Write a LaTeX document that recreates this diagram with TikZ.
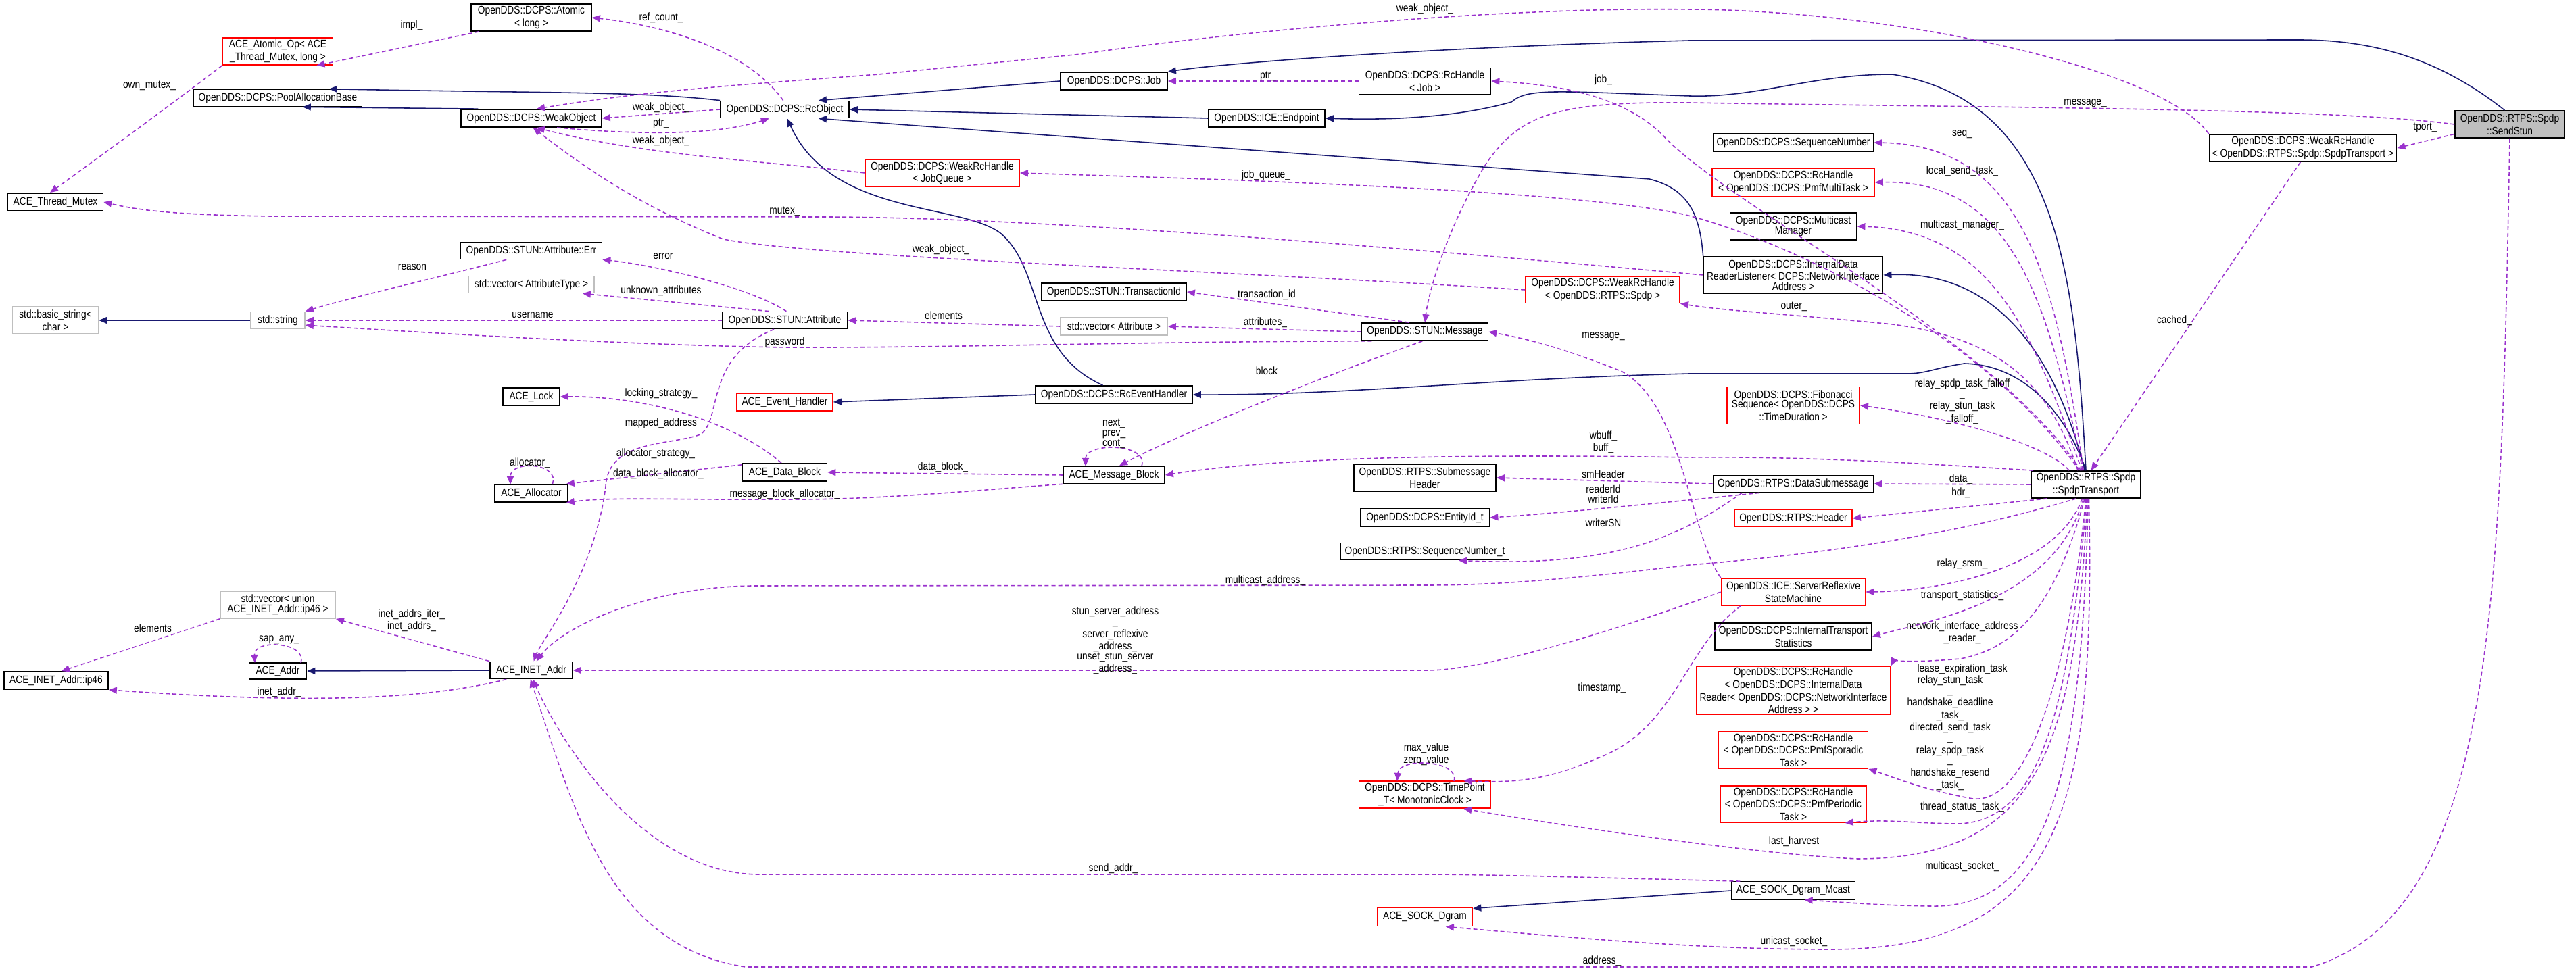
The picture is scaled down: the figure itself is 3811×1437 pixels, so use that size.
\documentclass[tikz,border=0pt]{standalone}
\usepackage{fontspec}
\setmainfont{Liberation Sans}[FakeStretch=0.85]
\usetikzlibrary{arrows.meta}
\definecolor{navy}{RGB}{25,25,112}
\definecolor{purp}{RGB}{154,50,205}
\definecolor{gbox}{RGB}{191,191,191}
\begin{document}
\begin{tikzpicture}[x=0.01cm,y=-0.01cm,
  every node/.style={font=\fontsize{4.6pt}{4.2pt}\selectfont, align=center, inner sep=0.5pt},
  sz/.style 2 args={minimum width=#1*0.01cm, minimum height=#2*0.01cm},
  cls/.style={draw=black, line width=0.5pt, fill=white},
  rcls/.style={draw=red, line width=0.5pt, fill=white},
  gcls/.style={draw=gbox, line width=0.5pt, fill=white},
  cur/.style={draw=black, line width=0.5pt, fill=gbox},
  inh/.style={draw=navy, line width=0.45pt, -{Triangle[length=0.12cm,width=0.1cm]}},
  use/.style={draw=purp, line width=0.45pt, dash pattern=on 0.06cm off 0.04cm, -{Triangle[length=0.12cm,width=0.1cm]}},
  lbl/.style={fill=none}]
\useasboundingbox (0,0) rectangle (3811,1437);
% nodes
\node[cls,sz={178}{40}] (atomic) at (786,26) {OpenDDS::DCPS::Atomic\\< long >};
\node[rcls,sz={163}{40}] (atomicop) at (411,76) {ACE\_Atomic\_Op< ACE\\\_Thread\_Mutex, long >};
\node[cls,sz={249}{25}] (pool) at (411,145) {OpenDDS::DCPS::PoolAllocationBase};
\node[cls,sz={208}{26}] (weakobj) at (786,175) {OpenDDS::DCPS::WeakObject};
\node[cls,sz={190}{25}] (rcobj) at (1161,162) {OpenDDS::DCPS::RcObject};
\node[cls,sz={141}{26}] (mutex) at (82,299) {ACE\_Thread\_Mutex};
\node[cls,sz={209}{25}] (err) at (786,371) {OpenDDS::STUN::Attribute::Err};
\node[gcls,sz={186}{25}] (vecat) at (786,421) {std::vector< AttributeType >};
\node[gcls,sz={127}{40}] (bstr) at (82,474) {std::basic\_string<\\char >};
\node[gcls,sz={80}{25}] (str) at (411,474) {std::string};
\node[cls,sz={185}{25}] (attr) at (1161,474) {OpenDDS::STUN::Attribute};
\node[cls,sz={84}{26}] (lock) at (786,587) {ACE\_Lock};
\node[rcls,sz={142}{26}] (evh) at (1161,595) {ACE\_Event\_Handler};
\node[cls,sz={125}{26}] (dblock) at (1161,699) {ACE\_Data\_Block};
\node[cls,sz={108}{26}] (alloc) at (786,730) {ACE\_Allocator};
\node[cls,sz={158}{26}] (job) at (1648,120) {OpenDDS::DCPS::Job};
\node[cls,sz={195}{39}] (rchjob) at (2108,120) {OpenDDS::DCPS::RcHandle\\< Job >};
\node[cls,sz={172}{26}] (endpoint) at (1874,175) {OpenDDS::ICE::Endpoint};
\node[rcls,sz={228}{40}] (wrhjq) at (1394,256) {OpenDDS::DCPS::WeakRcHandle\\< JobQueue >};
\node[rcls,sz={228}{39}] (wrhspdp) at (2371,429) {OpenDDS::DCPS::WeakRcHandle\\< OpenDDS::RTPS::Spdp >};
\node[cls,sz={214}{26}] (tid) at (1648,432) {OpenDDS::STUN::TransactionId};
\node[gcls,sz={158}{26}] (vecattr) at (1648,483) {std::vector< Attribute >};
\node[cls,sz={187}{26}] (msg) at (2108,491) {OpenDDS::STUN::Message};
\node[cls,sz={232}{26}] (reh) at (1648,584) {OpenDDS::DCPS::RcEventHandler};
\node[cls,sz={150}{26}] (mblock) at (1648,703) {ACE\_Message\_Block};
\node[cls,sz={210}{40}] (smh) at (2108,707) {OpenDDS::RTPS::Submessage\\Header};
\node[cur,sz={162}{40}] (sendstun) at (3713,184) {OpenDDS::RTPS::Spdp\\::SendStun};
\node[cls,sz={277}{40}] (wrhst) at (3407,219) {OpenDDS::DCPS::WeakRcHandle\\< OpenDDS::RTPS::Spdp::SpdpTransport >};
\node[cls,sz={237}{26}] (seqn) at (2653,211) {OpenDDS::DCPS::SequenceNumber};
\node[rcls,sz={240}{41}] (pmfmulti) at (2653,270) {OpenDDS::DCPS::RcHandle\\< OpenDDS::DCPS::PmfMultiTask >};
\node[cls,sz={187}{40}] (mcm) at (2653,335) {OpenDDS::DCPS::Multicast\\Manager};
\node[cls,sz={265}{54}] (idrl) at (2653,407) {OpenDDS::DCPS::InternalData\\ReaderListener< DCPS::NetworkInterface\\Address >};
\node[rcls,sz={196}{55}] (fib) at (2653,600) {OpenDDS::DCPS::Fibonacci\\Sequence< OpenDDS::DCPS\\::TimeDuration >};
\node[cls,sz={162}{40}] (spdpt) at (3086,717) {OpenDDS::RTPS::Spdp\\::SpdpTransport};
\node[cls,sz={237}{25}] (dsub) at (2653,716) {OpenDDS::RTPS::DataSubmessage};
\node[cls,sz={191}{26}] (entity) at (2108,766) {OpenDDS::DCPS::EntityId\_t};
\node[cls,sz={249}{25}] (seqnt) at (2108,816) {OpenDDS::RTPS::SequenceNumber\_t};
\node[rcls,sz={174}{25}] (hdr) at (2653,767) {OpenDDS::RTPS::Header};
\node[rcls,sz={213}{40}] (srsm) at (2653,876) {OpenDDS::ICE::ServerReflexive\\StateMachine};
\node[cls,sz={232}{40}] (its) at (2653,942) {OpenDDS::DCPS::InternalTransport\\Statistics};
\node[rcls,sz={287}{69}] (rchidr) at (2653,1022) {OpenDDS::DCPS::RcHandle\\< OpenDDS::DCPS::InternalData\\Reader< OpenDDS::DCPS::NetworkInterface\\Address > >};
\node[rcls,sz={221}{54}] (spor) at (2653,1110) {OpenDDS::DCPS::RcHandle\\< OpenDDS::DCPS::PmfSporadic\\Task >};
\node[rcls,sz={216}{54}] (peri) at (2653,1190) {OpenDDS::DCPS::RcHandle\\< OpenDDS::DCPS::PmfPeriodic\\Task >};
\node[rcls,sz={195}{40}] (timep) at (2108,1176) {OpenDDS::DCPS::TimePoint\\\_T< MonotonicClock >};
\node[cls,sz={183}{26}] (mcast) at (2653,1318) {ACE\_SOCK\_Dgram\_Mcast};
\node[rcls,sz={141}{27}] (sockd) at (2108,1357) {ACE\_SOCK\_Dgram};
\node[gcls,sz={170}{40}] (vip46) at (411,895) {std::vector< union\\ACE\_INET\_Addr::ip46 >};
\node[cls,sz={85}{24}] (addr) at (411,993) {ACE\_Addr};
\node[cls,sz={154}{26}] (ip46) at (83,1007) {ACE\_INET\_Addr::ip46};
\node[cls,sz={122}{25}] (inet) at (786,992) {ACE\_INET\_Addr};
% inheritance
\draw[inh] (weakobj.170) -- (pool.-20);
\draw[inh] (rcobj.north west) .. controls (950,135) and (800,138) .. (pool.10);
\draw[inh] (job.west) -- (rcobj.15);
\draw[inh] (endpoint.west) -- (rcobj.east);
\draw[inh] (idrl.north west) .. controls (2515,320) and (2500,280) .. (2440,265) -- (rcobj.-15);
\draw[inh] (reh.140) .. controls (1520,520) and (1545,400) .. (1480,345) .. controls (1420,300) and (1230,320) .. (rcobj.-75);
\draw[inh] (reh.west) -- (evh.east);
\draw[inh] (sendstun.110) .. controls (3600,80) and (3500,59) .. (3400,59) -- (2500,60) .. controls (2100,70) and (1800,95) .. (job.north east);
\draw[inh] (spdpt.north) .. controls (3070,420) and (3050,150) .. (2799,110) .. controls (2680,110) and (2600,145) .. (2500,142) .. controls (2300,135) and (2260,130) .. (2236,151) .. controls (2150,175) and (2050,178) .. (endpoint.east);
\draw[inh] (spdpt.95) .. controls (3040,520) and (2950,400) .. (idrl.east);
\draw[inh] (spdpt.north) .. controls (3060,620) and (3000,540) .. (2906,538) .. controls (2860,545) and (2850,553) .. (2820,553) -- (2500,553) .. controls (2200,560) and (2000,585) .. (reh.east);
\draw[inh] (inet.west) -- (addr.east);
\draw[inh] (mcast.west) -- (sockd.10);
\draw[inh] (str.west) -- (bstr.east);
% usage
\draw[use] (atomic.-165) -- (atomicop.-20);
\draw[use] (atomicop.south west) .. controls (260,150) and (150,230) .. (mutex.120);
\draw[use] (rcobj.100) .. controls (1110,80) and (1000,40) .. (atomic.east);
\draw[use] (rcobj.west) -- (weakobj.east);
\draw[use] (weakobj.-20) .. controls (950,200) and (1060,200) .. (rcobj.-150);
\draw[use] (wrhjq.west) .. controls (1150,240) and (950,230) .. (weakobj.-60);
\draw[use] (wrhspdp.west) .. controls (1800,400) and (1200,380) .. (1070,354) .. controls (960,310) and (880,260) .. (weakobj.-80);
\draw[use] (wrhst.north west) .. controls (3200,100) and (2800,15) .. (2500,14) .. controls (2200,10) and (1800,50) .. (1600,80) -- (1300,110) .. controls (1100,125) and (950,135) .. (weakobj.60);
\draw[use] (rchjob.west) -- (job.east);
\draw[use] (sendstun.west) .. controls (3450,160) and (3000,160) .. (2500,152) .. controls (2300,150) and (2250,170) .. (2200,240) .. controls (2150,320) and (2115,420) .. (msg.north);
\draw[use] (sendstun.-170) -- (wrhst.east);
\draw[use] (sendstun.south) .. controls (3700,900) and (3690,1350) .. (3420,1431) -- (1103,1431) .. controls (900,1400) and (850,1200) .. (inet.-95);
\draw[use] (wrhst.-100) -- (spdpt.70);
\draw[use] (spdpt.110) .. controls (2950,500) and (2550,300) .. (2460,200) .. controls (2400,140) and (2300,125) .. (rchjob.east);
\draw[use] (spdpt.115) .. controls (2900,450) and (2560,330) .. (2480,315) .. controls (2300,280) and (1800,265) .. (wrhjq.east);
\draw[use] (idrl.west) .. controls (2000,360) and (1500,320) .. (1200,321) -- (400,320) .. controls (250,318) and (200,310) .. (mutex.east);
\draw[use] (spdpt.120) .. controls (3030,560) and (2950,500) .. (2800,480) .. controls (2650,465) and (2550,460) .. (wrhspdp.-10);
\draw[use] (spdpt.100) .. controls (3040,400) and (2990,215) .. (seqn.east);
\draw[use] (spdpt.103) .. controls (3030,450) and (2980,265) .. (pmfmulti.east);
\draw[use] (spdpt.106) .. controls (3010,500) and (2950,340) .. (mcm.east);
\draw[use] (spdpt.140) .. controls (3030,660) and (2900,620) .. (fib.east);
\draw[use] (spdpt.165) .. controls (2900,690) and (2700,675) .. (2500,677) .. controls (2200,672) and (1900,675) .. (mblock.east);
\draw[use] (spdpt.west) -- (dsub.east);
\draw[use] (spdpt.-160) -- (hdr.east);
\draw[use] (spdpt.-125) .. controls (2900,790) and (2700,820) .. (2500,836) .. controls (2300,860) and (2200,866) .. (2112,866) -- (1111,867) .. controls (950,870) and (830,930) .. (inet.60);
\draw[use] (spdpt.-105) .. controls (3040,850) and (2850,875) .. (srsm.east);
\draw[use] (spdpt.-100) .. controls (3040,890) and (2850,920) .. (its.east);
\draw[use] (spdpt.-95) .. controls (3040,900) and (2980,960) .. (2900,975) .. controls (2840,980) and (2800,980) .. (rchidr.north east);
\draw[use] (spdpt.-90) .. controls (3060,1000) and (3000,1190) .. (2919,1182) .. controls (2850,1170) and (2800,1150) .. (spor.south east);
\draw[use] (spdpt.-87) .. controls (3060,1050) and (3020,1222) .. (2890,1219) .. controls (2830,1218) and (2790,1212) .. (peri.-20);
\draw[use] (spdpt.-84) .. controls (3070,1100) and (3020,1270) .. (2749,1271) .. controls (2600,1265) and (2300,1220) .. (timep.-20);
\draw[use] (spdpt.-81) .. controls (3080,1150) and (3030,1345) .. (2856,1341) .. controls (2780,1340) and (2740,1336) .. (mcast.-40);
\draw[use] (spdpt.-78) .. controls (3100,1200) and (3050,1405) .. (2707,1405) .. controls (2500,1405) and (2300,1385) .. (sockd.-25);
\draw[use] (dsub.west) -- (smh.east);
\draw[use] (dsub.-165) .. controls (2450,745) and (2300,760) .. (entity.east);
\draw[use] (dsub.-170) .. controls (2490,790) and (2400,840) .. (seqnt.-15);
\draw[use] (srsm.west) .. controls (2400,930) and (2200,992) .. (2112,992) -- (inet.east);
\draw[use] (srsm.north west) .. controls (2500,790) and (2490,600) .. (2400,550) .. controls (2300,510) and (2250,500) .. (msg.east);
\draw[use] (srsm.-165) .. controls (2490,960) and (2480,1080) .. (2361,1123) .. controls (2300,1150) and (2250,1160) .. (timep.20);
\draw[use] (2151,1156) .. controls (2160,1125) and (2070,1120) .. (2067,1156);
\draw[use] (mcast.170) .. controls (2400,1300) and (2200,1294) .. (2112,1294) -- (1119,1294) .. controls (950,1290) and (830,1100) .. (inet.-80);
\draw[use] (attr.-140) .. controls (1040,530) and (1070,620) .. (1036,643) .. controls (990,660) and (900,650) .. (896,720) .. controls (880,850) and (800,950) .. (inet.75);
\draw[use] (attr.80) .. controls (1100,420) and (950,390) .. (err.south east);
\draw[use] (attr.150) -- (vecat.-10);
\draw[use] (attr.west) -- (str.east);
\draw[use] (msg.190) .. controls (1700,505) and (1400,515) .. (1161,514) .. controls (900,510) and (600,490) .. (str.-10);
\draw[use] (err.-160) .. controls (650,410) and (520,440) .. (str.north east);
\draw[use] (vecattr.west) -- (attr.east);
\draw[use] (msg.150) -- (tid.east);
\draw[use] (msg.west) -- (vecattr.east);
\draw[use] (msg.-105) .. controls (1950,560) and (1750,640) .. (mblock.60);
\draw[use] (1689,690) .. controls (1700,655) and (1606,655) .. (1606,690);
\draw[use] (mblock.west) -- (dblock.east);
\draw[use] (mblock.-170) .. controls (1450,725) and (1300,740) .. (1161,739) .. controls (1000,740) and (900,735) .. (alloc.-15);
\draw[use] (dblock.170) -- (alloc.15);
\draw[use] (dblock.110) .. controls (1080,620) and (950,586) .. (lock.east);
\draw[use] (817,717) .. controls (830,685) and (755,680) .. (755,717);
\draw[use] (445,981) .. controls (455,950) and (375,945) .. (377,981);
\draw[use] (inet.north west) -- (vip46.south east);
\draw[use] (inet.-160) .. controls (650,1030) and (500,1045) .. (ip46.south east);
\draw[use] (vip46.south west) -- (ip46.60);
% labels
\node[lbl] (l1) at (609,37) {impl\_};
\node[lbl] (l2) at (978,26) {ref\_count\_};
\node[lbl] (l3) at (221,127) {own\_mutex\_};
\node[lbl] (l4) at (978,159) {weak\_object\_};
\node[lbl] (l5) at (978,183) {ptr\_};
\node[lbl] (l6) at (978,208) {weak\_object\_};
\node[lbl] (l7) at (1161,313) {mutex\_};
\node[lbl] (l8) at (610,395) {reason};
\node[lbl] (l9) at (981,379) {error};
\node[lbl] (l10) at (978,430) {unknown\_attributes};
\node[lbl] (l11) at (788,466) {username};
\node[lbl] (l12) at (1161,506) {password};
\node[lbl] (l13) at (978,582) {locking\_strategy\_};
\node[lbl] (l14) at (978,626) {mapped\_address};
\node[lbl] (l15) at (970,671) {allocator\_strategy\_};
\node[lbl] (l16) at (974,701) {data\_block\_allocator\_};
\node[lbl] (l17) at (784,685) {allocator\_};
\node[lbl] (l18) at (1161,731) {message\_block\_allocator\_};
\node[lbl] (l19) at (226,930) {elements};
\node[lbl] (l20) at (609,918) {inet\_addrs\_iter\_\\inet\_addrs\_};
\node[lbl] (l21) at (413,947) {sap\_any\_};
\node[lbl] (l22) at (413,1024) {inet\_addr\_};
\node[lbl] (l23) at (2108,13) {weak\_object\_};
\node[lbl] (l24) at (1876,113) {ptr\_};
\node[lbl] (l25) at (2372,118) {job\_};
\node[lbl] (l26) at (1873,259) {job\_queue\_};
\node[lbl] (l27) at (1392,369) {weak\_object\_};
\node[lbl] (l28) at (1874,436) {transaction\_id};
\node[lbl] (l29) at (1396,467) {elements};
\node[lbl] (l30) at (1872,477) {attributes\_};
\node[lbl] (l31) at (2372,498) {message\_};
\node[lbl] (l32) at (1874,549) {block};
\node[lbl] (l33) at (1648,642) {next\_\\prev\_\\cont\_};
\node[lbl] (l34) at (1395,691) {data\_block\_};
\node[lbl] (l35) at (2372,654) {wbuff\_\\buff\_};
\node[lbl] (l36) at (2372,702) {smHeader};
\node[lbl] (l37) at (3085,153) {message\_};
\node[lbl] (l38) at (2903,199) {seq\_};
\node[lbl] (l39) at (2903,253) {local\_send\_task\_};
\node[lbl] (l40) at (2903,333) {multicast\_manager\_};
\node[lbl] (l41) at (2654,454) {outer\_};
\node[lbl] (l42) at (2903,594) {relay\_spdp\_task\_falloff\\\_\\relay\_stun\_task\\\_falloff\_};
\node[lbl] (l44) at (3588,189) {tport\_};
\node[lbl] (l45) at (3217,474) {cached\_};
\node[lbl] (l46) at (2372,731) {readerId\\writerId};
\node[lbl] (l47) at (2372,774) {writerSN};
\node[lbl] (l48) at (1872,859) {multicast\_address\_};
\node[lbl] (l49) at (1650,948) {stun\_server\_address\\\_\\server\_reflexive\\\_address\_\\unset\_stun\_server\\\_address\_};
\node[lbl] (l50) at (2370,1018) {timestamp\_};
\node[lbl] (l51) at (2110,1116) {max\_value\\zero\_value};
\node[lbl] (l52) at (1647,1285) {send\_addr\_};
\node[lbl] (l53) at (2370,1422) {address\_};
\node[lbl] (l54) at (2901,709) {data\_};
\node[lbl] (l55) at (2901,729) {hdr\_};
\node[lbl] (l56) at (2903,834) {relay\_srsm\_};
\node[lbl] (l57) at (2903,881) {transport\_statistics\_};
\node[lbl] (l58) at (2903,936) {network\_interface\_address\\\_reader\_};
\node[lbl] (l59) at (2903,990) {lease\_expiration\_task};
\node[lbl] (l60) at (2885,1085) {relay\_stun\_task\\\_\\handshake\_deadline\\\_task\_\\directed\_send\_task\\\_\\relay\_spdp\_task\\\_\\handshake\_resend\\\_task\_};
\node[lbl] (l61) at (2903,1194) {thread\_status\_task\_};
\node[lbl] (l62) at (2654,1245) {last\_harvest};
\node[lbl] (l63) at (2903,1282) {multicast\_socket\_};
\node[lbl] (l64) at (2654,1393) {unicast\_socket\_};
\end{tikzpicture}
\end{document}
